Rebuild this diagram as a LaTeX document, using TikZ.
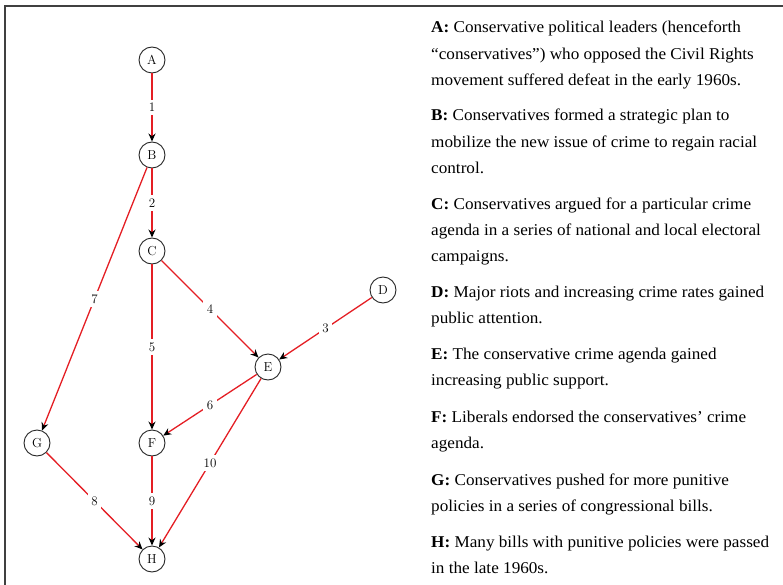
\documentclass[tikz,border=0pt]{standalone}
\usepackage{fontspec}
\newfontfamily\timesfont[FakeStretch=1.04, Ligatures=TeX]{Liberation Serif}
\usetikzlibrary{arrows.meta}
\definecolor{linkred}{RGB}{228,30,36}

\begin{document}
\begin{tikzpicture}
[x=1pt, y=-1pt, state/.style={circle, draw=black!85, line width=0.9pt, minimum size=26pt, inner sep=0pt, font=\fontsize{13}{13}\selectfont}, link/.style={draw=linkred, line width=1.3pt, -{Stealth[black, length=8pt, width=7pt]}}, num/.style={fill=white, inner sep=3.5pt, font=\fontsize{13}{13}\selectfont}, desc/.style={anchor=base west, align=left, inner sep=0pt, font=\timesfont\fontsize{16.5}{26.3}\selectfont}, frame line/.style={draw=black!75, line width=1.6pt}]
    \useasboundingbox (0,0) rectangle (783,585);
    \draw[frame line] (5,585) -- (5,6) -- (783,6);
    % events
    \node[state] (A) at (152,60) {A};
    \node[state] (B) at (152,155) {B};
    \node[state] (C) at (152,251) {C};
    \node[state] (D) at (383,290) {D};
    \node[state] (E) at (268,367) {E};
    \node[state] (F) at (152,443) {F};
    \node[state] (G) at (37,443) {G};
    \node[state] (H) at (152,559) {H};
    % causal links
    \draw[link] (A) -- node[num] {1} (B);
    \draw[link] (B) -- node[num] {2} (C);
    \draw[link] (D) -- node[num] {3} (E);
    \draw[link] (C) -- node[num] {4} (E);
    \draw[link] (C) -- node[num] {5} (F);
    \draw[link] (E) -- node[num] {6} (F);
    \draw[link] (B) -- node[num] {7} (G);
    \draw[link] (G) -- node[num] {8} (H);
    \draw[link] (F) -- node[num] {9} (H);
    \draw[link] (E) -- node[num] {10} (H);
    % legend (base = last line)
    \node[desc] (tA) at (431,85.6) {\textbf{A:} Conservative political leaders (henceforth\\“conservatives”) who opposed the Civil Rights\\movement suffered defeat in the early 1960s.};
    \node[desc] (tB) at (431,173.6) {\textbf{B:} Conservatives formed a strategic plan to\\mobilize the new issue of crime to regain racial\\control.};
    \node[desc] (tC) at (431,261.6) {\textbf{C:} Conservatives argued for a particular crime\\agenda in a series of national and local electoral\\campaigns.};
    \node[desc] (tD) at (431,323.3) {\textbf{D:} Major riots and increasing crime rates gained\\public attention.};
    \node[desc] (tE) at (431,385.9) {\textbf{E:} The conservative crime agenda gained\\increasing public support.};
    \node[desc] (tF) at (431,448.3) {\textbf{F:} Liberals endorsed the conservatives’ crime\\agenda.};
    \node[desc] (tG) at (431,511.3) {\textbf{G:} Conservatives pushed for more punitive\\policies in a series of congressional bills.};
    \node[desc] (tH) at (431,573.8) {\textbf{H:} Many bills with punitive policies were passed\\in the late 1960s.};
\end{tikzpicture}
\end{document}
